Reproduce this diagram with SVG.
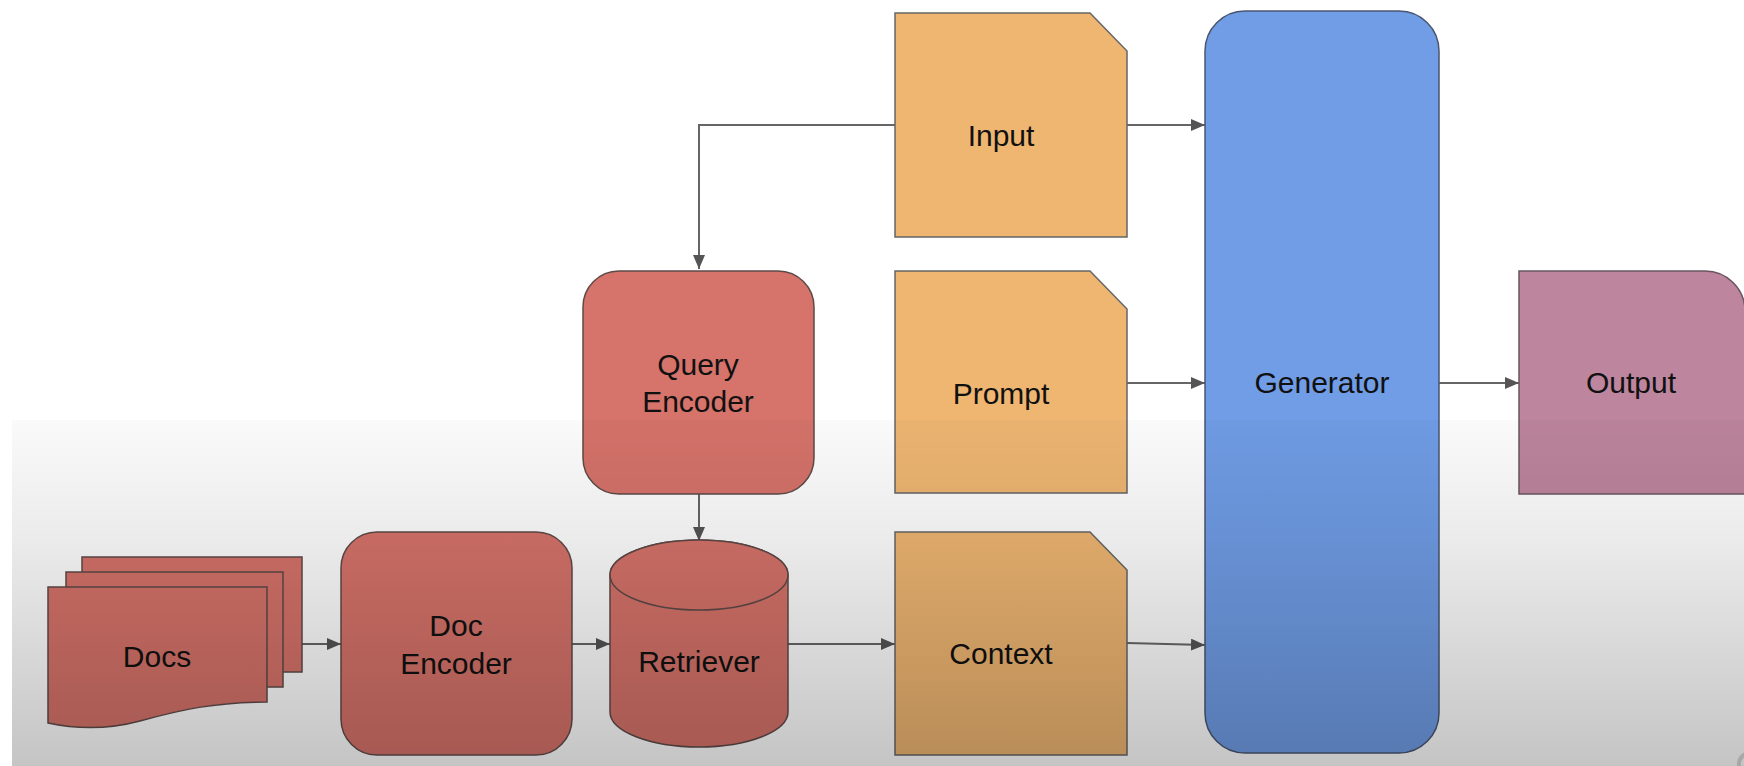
<svg xmlns="http://www.w3.org/2000/svg" width="1744" height="766" viewBox="0 0 1744 766">
  <defs>
    <marker id="arrow" viewBox="0 0 14 12" refX="14" refY="6" markerWidth="14" markerHeight="12" markerUnits="userSpaceOnUse" orient="auto">
      <path d="M0,0 L14,6 L0,12 Z" fill="#555"/>
    </marker>
    <linearGradient id="shade" x1="0" y1="0" x2="0" y2="1">
      <stop offset="0" stop-color="#000" stop-opacity="0.02"/>
      <stop offset="0.35" stop-color="#000" stop-opacity="0.08"/>
      <stop offset="1" stop-color="#000" stop-opacity="0.23"/>
    </linearGradient>
  </defs>
  <style>
    .lbl { font-family: "Liberation Sans", Arial, sans-serif; font-size: 30px; fill: #111; text-anchor: middle; }
    .red { fill: #d6736a; stroke: #5e4a48; stroke-width: 1.5; }
    .doc { fill: #efb672; stroke: #666; stroke-width: 1.5; }
    .gen { fill: #709de6; stroke: #4a5670; stroke-width: 1.5; }
    .out { fill: #bd859e; stroke: #6a5560; stroke-width: 1.5; }
    .edge { fill: none; stroke: #666; stroke-width: 2; }
  </style>

  <rect width="1744" height="766" fill="#ffffff"/>

  <!-- connectors -->
  <g id="connectors">
    <path class="edge" d="M895,125 H699 V269" marker-end="url(#arrow)"/>
    <path class="edge" d="M1127,125 H1205" marker-end="url(#arrow)"/>
    <path class="edge" d="M1127,383 H1205" marker-end="url(#arrow)"/>
    <path class="edge" d="M1127,643 L1205,645" marker-end="url(#arrow)"/>
    <path class="edge" d="M1439,383 H1519" marker-end="url(#arrow)"/>
    <path class="edge" d="M699,494 V541" marker-end="url(#arrow)"/>
    <path class="edge" d="M302,644 H341" marker-end="url(#arrow)"/>
    <path class="edge" d="M572,644 H610" marker-end="url(#arrow)"/>
    <path class="edge" d="M788,644 H895" marker-end="url(#arrow)"/>
  </g>

  <!-- document stack -->
  <g id="docs">
    <rect class="red" x="82" y="557" width="220" height="115"/>
    <rect class="red" x="66" y="572" width="217" height="115"/>
    <path class="red" d="M48,587 H267 V702 C215,702 180,710 140,721 C110,729 80,730 48,723 Z"/>
    <text class="lbl" x="157" y="667">Docs</text>
  </g>

  <g id="doc-encoder">
    <rect class="red" x="341" y="532" width="231" height="223" rx="36" ry="36"/>
    <text class="lbl" x="456" y="636">Doc</text>
    <text class="lbl" x="456" y="674">Encoder</text>
  </g>

  <g id="query-encoder">
    <rect class="red" x="583" y="271" width="231" height="223" rx="36" ry="36"/>
    <text class="lbl" x="698" y="375">Query</text>
    <text class="lbl" x="698" y="412">Encoder</text>
  </g>

  <g id="retriever">
    <path class="red" d="M610,575 V712 A89,35 0 0 0 788,712 V575 A89,35 0 0 0 610,575 Z"/>
    <ellipse class="red" cx="699" cy="575" rx="89" ry="35"/>
    <text class="lbl" x="699" y="672">Retriever</text>
  </g>

  <g id="input">
    <path class="doc" d="M895,13 H1090 L1127,51 V237 H895 Z"/>
    <text class="lbl" x="1001" y="146">Input</text>
  </g>

  <g id="prompt">
    <path class="doc" d="M895,271 H1090 L1127,309 V493 H895 Z"/>
    <text class="lbl" x="1001" y="404">Prompt</text>
  </g>

  <g id="context">
    <path class="doc" d="M895,532 H1090 L1127,570 V755 H895 Z"/>
    <text class="lbl" x="1001" y="664">Context</text>
  </g>

  <g id="generator">
    <rect class="gen" x="1205" y="11" width="234" height="742" rx="40" ry="40"/>
    <text class="lbl" x="1322" y="393">Generator</text>
  </g>

  <g id="output">
    <path class="out" d="M1519,271 H1705 A40,40 0 0 1 1745,311 V494 H1519 Z"/>
    <text class="lbl" x="1631" y="393">Output</text>
  </g>

  <!-- lower shading band -->
  <rect x="12" y="420" width="1732" height="346" fill="url(#shade)"/>
  <circle cx="1750" cy="764" r="11" fill="none" stroke="#a8a8a8" stroke-width="4"/>
</svg>
